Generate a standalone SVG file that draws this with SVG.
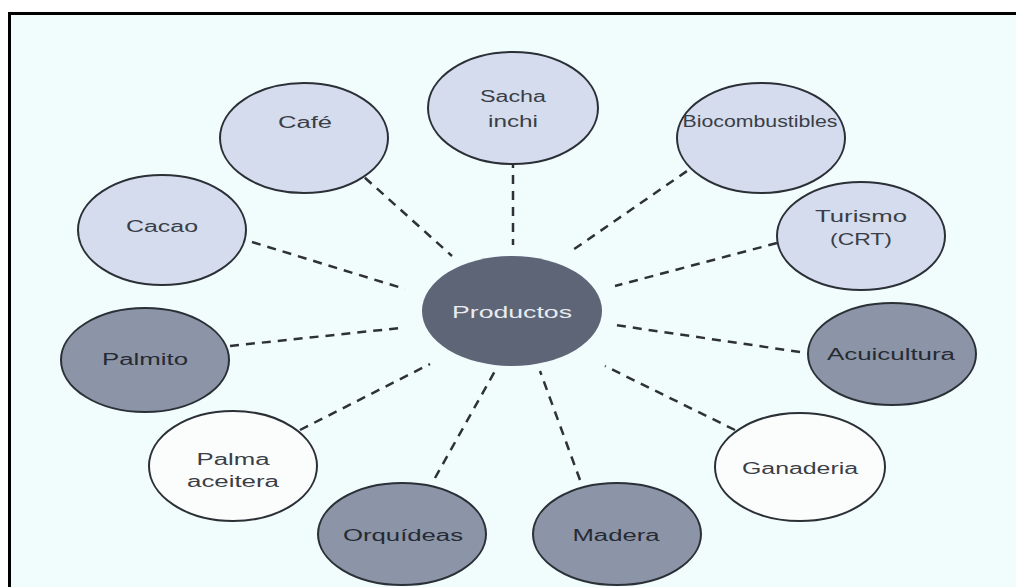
<svg xmlns="http://www.w3.org/2000/svg" width="1016" height="587" viewBox="0 0 1016 587">
<style>
.lt{fill:#d4dcee;stroke:#2b2f36;stroke-width:2}
.dk{fill:#8c95a8;stroke:#2b2f36;stroke-width:2}
.wh{fill:#fbfdfd;stroke:#2b2f36;stroke-width:2}
.ct{fill:#5e6576}
text{font-family:"Liberation Sans",Arial,sans-serif;font-size:16px;text-anchor:middle;fill:#3a3e46}
.dk + text,.dkt{fill:#262a33}
.cttx{fill:#e8ebf0;font-size:16.5px}
.con line{stroke:#2e3238;stroke-width:2.5;stroke-dasharray:9 7}
</style>
<rect x="0" y="0" width="1016" height="587" fill="#ffffff"/>
<rect x="9.5" y="13.5" width="1020" height="590" fill="#f1fcfd" stroke="#000" stroke-width="3"/>
<g id="connectors" class="con">
<line x1="513" y1="143" x2="513" y2="245"/>
<line x1="353" y1="167" x2="452" y2="256"/>
<line x1="252" y1="242" x2="405" y2="289"/>
<line x1="700" y1="162" x2="570" y2="252"/>
<line x1="777" y1="243" x2="615" y2="286"/>
<line x1="230" y1="346" x2="400" y2="328"/>
<line x1="800" y1="352" x2="615" y2="325"/>
<line x1="300" y1="430" x2="430" y2="364"/>
<line x1="735" y1="430" x2="605" y2="366"/>
<line x1="435" y1="478" x2="495" y2="371"/>
<line x1="580" y1="480" x2="540" y2="371"/>
</g>
<g id="productos"><ellipse class="ct" cx="512" cy="311" rx="90" ry="55"/><text class="cttx" x="512" y="318" textLength="120" lengthAdjust="spacingAndGlyphs">Productos</text></g>
<g id="sacha"><ellipse class="lt" cx="513" cy="108" rx="85" ry="56"/><text x="513" y="102" textLength="66" lengthAdjust="spacingAndGlyphs">Sacha</text><text x="513" y="127" textLength="50" lengthAdjust="spacingAndGlyphs">inchi</text></g>
<g id="cafe"><ellipse class="lt" cx="304" cy="138" rx="84" ry="55"/><text x="305" y="128" textLength="54" lengthAdjust="spacingAndGlyphs">Café</text></g>
<g id="biocombustibles"><ellipse class="lt" cx="761" cy="138" rx="84" ry="55"/><text x="760" y="127" textLength="155" lengthAdjust="spacingAndGlyphs">Biocombustibles</text></g>
<g id="cacao"><ellipse class="lt" cx="162" cy="230" rx="84" ry="55"/><text x="162" y="232" textLength="72" lengthAdjust="spacingAndGlyphs">Cacao</text></g>
<g id="turismo"><ellipse class="lt" cx="861" cy="236" rx="84" ry="54"/><text x="861" y="222" textLength="92" lengthAdjust="spacingAndGlyphs">Turismo</text><text x="861" y="245" textLength="62" lengthAdjust="spacingAndGlyphs">(CRT)</text></g>
<g id="palmito"><ellipse class="dk" cx="145" cy="360" rx="84" ry="52"/><text class="dkt" x="145" y="365" textLength="86" lengthAdjust="spacingAndGlyphs">Palmito</text></g>
<g id="acuicultura"><ellipse class="dk" cx="892" cy="354" rx="84" ry="51"/><text class="dkt" x="891" y="360" textLength="128" lengthAdjust="spacingAndGlyphs">Acuicultura</text></g>
<g id="palma"><ellipse class="wh" cx="233" cy="466" rx="84" ry="55"/><text x="233" y="465" textLength="73" lengthAdjust="spacingAndGlyphs">Palma</text><text x="233" y="487" textLength="92" lengthAdjust="spacingAndGlyphs">aceitera</text></g>
<g id="ganaderia"><ellipse class="wh" cx="800" cy="467" rx="85" ry="54"/><text x="800" y="474" textLength="116" lengthAdjust="spacingAndGlyphs">Ganaderia</text></g>
<g id="orquideas"><ellipse class="dk" cx="402" cy="534" rx="84" ry="51"/><text class="dkt" x="403" y="541" textLength="120" lengthAdjust="spacingAndGlyphs">Orquídeas</text></g>
<g id="madera"><ellipse class="dk" cx="617" cy="534" rx="84" ry="51"/><text class="dkt" x="616" y="541" textLength="87" lengthAdjust="spacingAndGlyphs">Madera</text></g>
</svg>
